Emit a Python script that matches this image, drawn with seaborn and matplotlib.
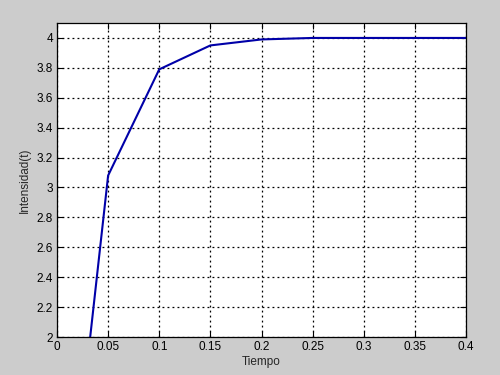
import matplotlib
matplotlib.use("Agg")
import matplotlib.pyplot as plt
import seaborn as sns
import pandas as pd
import numpy as np

tiempo = [0.0, 0.05, 0.10, 0.15, 0.20, 0.25, 0.30, 0.35, 0.40]
intensidad = [0.0, 3.08, 3.79, 3.95, 3.99, 4.0, 4.0, 4.0, 4.0]
xticks = [0, 0.05, 0.1, 0.15, 0.2, 0.25, 0.3, 0.35, 0.4]
xticklabels = ["0", "0.05", "0.1", "0.15", "0.2", "0.25", "0.3", "0.35", "0.4"]
yticks = [2, 2.2, 2.4, 2.6, 2.8, 3, 3.2, 3.4, 3.6, 3.8, 4]
yticklabels = ["2", "2.2", "2.4", "2.6", "2.8", "3", "3.2", "3.4", "3.6", "3.8", "4"]

df = pd.DataFrame({"Tiempo": tiempo, "Intensidad(t)": intensidad})

sns.set_style("white")
plt.rcParams["font.family"] = ["Liberation Sans", "DejaVu Sans"]

fig = plt.figure(figsize=(5, 3.75), dpi=100, facecolor="#cccccc")
ax = fig.add_axes([0.114, 0.1013, 0.818, 0.8374])
ax.set_facecolor("white")

sns.lineplot(data=df, x="Tiempo", y="Intensidad(t)", ax=ax, color="#0000a8",
             linewidth=1.5, estimator=None)

ax.set_xlim(0, 0.4)
ax.set_ylim(2, 4.1)
ax.set_xticks(xticks)
ax.set_xticklabels(xticklabels)
ax.set_yticks(yticks)
ax.set_yticklabels(yticklabels)
ax.grid(True, color="black", linestyle=(0, (1.5, 2.5)), linewidth=0.9)
ax.set_axisbelow(True)
ax.tick_params(direction="in", length=4, labelsize=8.5, colors="black",
               top=True, right=True, bottom=True, left=True, pad=3)
for s in ax.spines.values():
    s.set_color("black")
    s.set_linewidth(0.9)
ax.set_xlabel("Tiempo", fontsize=8.5, labelpad=2)
ax.set_ylabel("Intensidad(t)", fontsize=8.5, labelpad=4)

fig.savefig("out.png", dpi=100, facecolor=fig.get_facecolor())
